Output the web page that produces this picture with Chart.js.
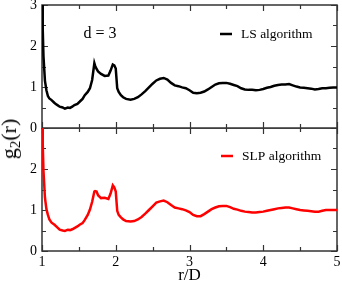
<!DOCTYPE html>
<html>
<head>
<meta charset="utf-8">
<script src="https://cdn.jsdelivr.net/npm/chart.js@4/dist/chart.umd.min.js"></script>
<style>
    html, body { margin: 0; padding: 0; background: #fff; }
    #wrap { position: relative; width: 342px; height: 281px; overflow: hidden; }
    canvas { position: absolute; left: 0; }
    #ytitle {
        position: absolute; left: 10px; top: 139px;
        transform: translate(-50%, -50%) rotate(-90deg);
        font: 22px "Liberation Serif", serif; white-space: nowrap; color: #000;
    }
    #ytitle sub { font-size: 15px; vertical-align: -4px; }
</style>
</head>
<body>
<div id="wrap">
    <canvas id="top" width="342" height="140" style="top:0"></canvas>
    <canvas id="bottom" width="342" height="156" style="top:128px"></canvas>
    <div id="ytitle">g<sub>2</sub>(r)</div>
</div>
<script>
const R = [
    1.00, 1.01, 1.02, 1.04, 1.06, 1.08, 1.10, 1.13, 1.17, 1.20,
    1.24, 1.28, 1.31, 1.35, 1.38, 1.41, 1.44, 1.48, 1.51, 1.55,
    1.58, 1.62, 1.65, 1.68, 1.71, 1.72, 1.74, 1.76, 1.80, 1.85,
    1.90, 1.93, 1.96, 1.98, 2.00, 2.02, 2.04, 2.07, 2.10, 2.14,
    2.20, 2.25, 2.30, 2.35, 2.40, 2.45, 2.50, 2.55, 2.60, 2.65,
    2.70, 2.75, 2.80, 2.85, 2.90, 2.95, 3.00, 3.05, 3.10, 3.15,
    3.20, 3.25, 3.30, 3.35, 3.40, 3.45, 3.50, 3.55, 3.60, 3.65,
    3.70, 3.75, 3.80, 3.85, 3.90, 3.95, 4.00, 4.05, 4.10, 4.15,
    4.20, 4.25, 4.30, 4.35, 4.40, 4.45, 4.50, 4.55, 4.60, 4.65,
    4.70, 4.75, 4.80, 4.85, 4.90, 4.95, 5.00,
];
const LS_G2 = [
    4.00, 2.40, 1.75, 1.15, 0.92, 0.78, 0.72, 0.68, 0.61, 0.57,
    0.52, 0.50, 0.47, 0.50, 0.49, 0.52, 0.56, 0.59, 0.64, 0.71,
    0.80, 0.88, 0.97, 1.17, 1.58, 1.52, 1.44, 1.38, 1.32, 1.27,
    1.28, 1.40, 1.55, 1.53, 1.45, 0.97, 0.88, 0.80, 0.75, 0.71,
    0.69, 0.71, 0.75, 0.82, 0.90, 0.99, 1.08, 1.16, 1.20, 1.22,
    1.18, 1.10, 1.04, 1.02, 0.99, 0.97, 0.92, 0.86, 0.85, 0.86,
    0.89, 0.94, 1.00, 1.06, 1.09, 1.10, 1.10, 1.08, 1.05, 1.02,
    0.97, 0.94, 0.93, 0.93, 0.92, 0.93, 0.95, 0.98, 1.00, 1.03,
    1.05, 1.06, 1.06, 1.07, 1.04, 1.01, 0.99, 0.98, 0.97, 0.96,
    0.94, 0.95, 0.97, 0.97, 0.98, 0.99, 0.99,
];
const SLP_G2 = [
    4.00, 2.60, 1.95, 1.30, 1.02, 0.88, 0.77, 0.69, 0.64, 0.59,
    0.52, 0.50, 0.49, 0.52, 0.51, 0.53, 0.56, 0.60, 0.64, 0.68,
    0.76, 0.88, 1.01, 1.20, 1.45, 1.46, 1.45, 1.36, 1.29, 1.30,
    1.27, 1.40, 1.60, 1.55, 1.45, 0.98, 0.88, 0.82, 0.77, 0.73,
    0.72, 0.73, 0.77, 0.83, 0.91, 1.00, 1.09, 1.18, 1.21, 1.23,
    1.19, 1.12, 1.06, 1.04, 1.02, 0.99, 0.95, 0.88, 0.85, 0.85,
    0.90, 0.96, 1.02, 1.06, 1.09, 1.10, 1.10, 1.07, 1.03, 1.01,
    0.98, 0.96, 0.95, 0.94, 0.94, 0.95, 0.96, 0.98, 1.00, 1.02,
    1.04, 1.05, 1.06, 1.06, 1.04, 1.02, 1.00, 0.99, 0.98, 0.97,
    0.96, 0.96, 0.98, 1.00, 1.00, 1.00, 1.00,
];
const X_TICKS = [1, 2, 3, 4, 5];
const Y_TICKS = [0, 1, 2, 3];

const SERIF = "'Liberation Serif', 'Times New Roman', serif";
const FRAME_COLOR = "#333";

// frame with inward major/minor ticks on all four sides
const framePlugin = {
    id: "frame",
    beforeDatasetsDraw(chart) {
        const { ctx, chartArea: a, scales } = chart;
        ctx.save();
        ctx.strokeStyle = FRAME_COLOR;
        ctx.lineWidth = 1.5;
        ctx.strokeRect(a.left, a.top, a.right - a.left, a.bottom - a.top);
        ctx.lineWidth = 1.2;
        ctx.beginPath();
        for (let v = 1; v <= 5.001; v += 0.5) {
            const len = Number.isInteger(v) ? 6 : 4;
            const x = Math.round(scales.x.getPixelForValue(v)) + 0.5;
            ctx.moveTo(x, a.bottom); ctx.lineTo(x, a.bottom - len);
            ctx.moveTo(x, a.top); ctx.lineTo(x, a.top + len);
        }
        for (let v = 0; v <= 3.001; v += 0.5) {
            const len = Number.isInteger(v) ? 6 : 4;
            const y = Math.round(scales.y.getPixelForValue(v)) + 0.5;
            ctx.moveTo(a.left, y); ctx.lineTo(a.left + len, y);
            ctx.moveTo(a.right, y); ctx.lineTo(a.right - len, y);
        }
        ctx.stroke();
        ctx.restore();
    },
    afterDraw(chart, args, opts) {
        const ctx = chart.ctx;
        const ds = chart.data.datasets[0];
        ctx.save();
        ctx.strokeStyle = ds.borderColor;
        ctx.lineWidth = 2.5;
        ctx.beginPath();
        ctx.moveTo(opts.legendX, opts.legendY);
        ctx.lineTo(opts.legendX + 12, opts.legendY);
        ctx.stroke();
        ctx.fillStyle = "#000";
        ctx.font = "13.5px " + SERIF;
        ctx.textBaseline = "middle";
        ctx.textAlign = "left";
        ctx.fillText(ds.label, opts.legendX + 21, opts.legendY);
        if (opts.note) {
            ctx.font = "16px " + SERIF;
            ctx.textAlign = "center";
            ctx.fillText(opts.note, 100, 34);
        }
        ctx.restore();
    },
};

function makeChart(canvasId, label, values, color, showX, frameOpts) {
    return new Chart(document.getElementById(canvasId), {
        type: "line",
        data: {
            datasets: [{
                label,
                data: R.map((r, i) => ({ x: r, y: values[i] })),
                borderColor: color,
                borderWidth: 2.5,
                pointRadius: 0,
                tension: 0,
                fill: false,
            }],
        },
        options: {
            responsive: false,
            maintainAspectRatio: false,
            animation: false,
            devicePixelRatio: 1,
            layout: {
                padding: showX
                    ? { top: 0, right: 5, bottom: 0, left: 0 }
                    : { top: 5, right: 5, bottom: 12, left: 0 },
            },
            plugins: {
                legend: { display: false },
                tooltip: { enabled: false },
                frame: frameOpts,
            },
            scales: {
                x: {
                    type: "linear",
                    min: 1,
                    max: 5,
                    display: showX,
                    grid: { display: false, drawTicks: false },
                    border: { display: false },
                    afterBuildTicks: (s) => { s.ticks = X_TICKS.map((v) => ({ value: v })); },
                    ticks: {
                        color: "#000",
                        font: { family: SERIF, size: 14 },
                        padding: 3,
                        maxRotation: 0,
                    },
                    title: {
                        display: true,
                        text: "r/D",
                        color: "#000",
                        font: { family: SERIF, size: 17, lineHeight: 1 },
                        padding: { top: 0, bottom: 0 },
                    },
                    afterFit: (s) => {
                        s.height = showX ? 33 : 0;
                        s.paddingLeft = 0;
                        s.paddingRight = 0;
                    },
                },
                y: {
                    min: 0,
                    max: 3,
                    grid: { display: false, drawTicks: false },
                    border: { display: false },
                    afterBuildTicks: (s) => { s.ticks = Y_TICKS.map((v) => ({ value: v })); },
                    ticks: {
                        color: "#000",
                        font: { family: SERIF, size: 14 },
                        padding: 5,
                        callback: (v) => (showX && v === 3 ? "" : v),
                    },
                    afterFit: (s) => {
                        s.width = 42;
                        s.paddingTop = 0;
                        s.paddingBottom = 0;
                    },
                },
            },
        },
        plugins: [framePlugin],
    });
}

makeChart("top", "LS algorithm", LS_G2, "#000000", false,
    { legendX: 220, legendY: 34, note: "d = 3" });
makeChart("bottom", "SLP algorithm", SLP_G2, "#ff0000", true,
    { legendX: 221, legendY: 28, note: null });
</script>
</body>
</html>
